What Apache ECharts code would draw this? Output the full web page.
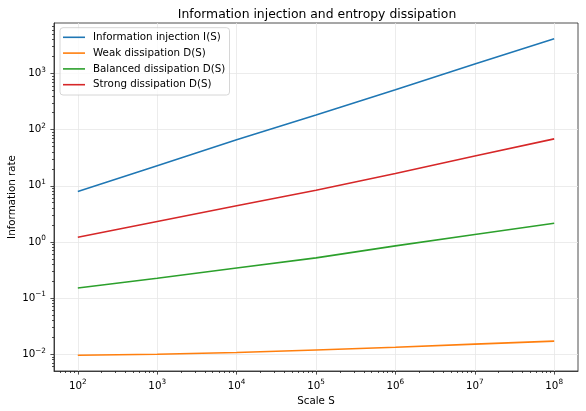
<!DOCTYPE html>
<html>
<head>
<meta charset="utf-8">
<script src="https://cdn.jsdelivr.net/npm/echarts@6/dist/echarts.min.js"></script>
<style>
html,body{margin:0;padding:0;background:#fff;}
#c{width:586px;height:411px;}
</style>
</head>
<body>
<div id="c"></div>
<script>
// ---- data ----
const scaleS = [1e2, 1e3, 1e4, 1e5, 1e6, 1e7, 1e8];
const injection = [7.9, 22.8, 66, 182, 515, 1480, 4150];
const weakDiss = [0.0096, 0.0100, 0.0107, 0.0119, 0.0133, 0.0151, 0.0171];
const balancedDiss = [0.151, 0.225, 0.344, 0.52, 0.85, 1.35, 2.16];
const strongDiss = [1.21, 2.32, 4.4, 8.3, 16.5, 34, 68.5];
const seriesNames = ['Information injection I(S)', 'Weak dissipation D(S)', 'Balanced dissipation D(S)', 'Strong dissipation D(S)'];
const xMajorTicks = [1e2, 1e3, 1e4, 1e5, 1e6, 1e7, 1e8];
const yMajorTicks = [1e-2, 1e-1, 1e0, 1e1, 1e2, 1e3];

// ---- layout helpers ----
function logRange(vals) {
  const lo = Math.log10(Math.min(...vals)), hi = Math.log10(Math.max(...vals));
  const m = 0.05 * (hi - lo);
  return [Math.pow(10, lo - m), Math.pow(10, hi + m)];
}
const xr = logRange(scaleS);
const yr = logRange([].concat(injection, weakDiss, balancedDiss, strongDiss));
function minorTicks(r) {
  const out = [];
  for (let e = -4; e <= 9; e++) for (let k = 2; k <= 9; k++) {
    const v = k * Math.pow(10, e);
    if (v >= r[0] && v <= r[1]) out.push(v);
  }
  return out;
}
function pow10Label(v) {
  const e = Math.round(Math.log10(v));
  return '{b|10}{s|' + String(e).replace('-', '\u2212') + '}';
}
const FONT = 'DejaVu Sans';
const richLbl = {
  b: {fontFamily: FONT, fontSize: 10.3, color: '#000', lineHeight: 14},
  s: {fontFamily: FONT, fontSize: 7.3, color: '#000', lineHeight: 7, verticalAlign: 'top'}
};
const tickStyle = {color: '#222', width: 0.8};
const colors = ['#1f77b4', '#ff7f0e', '#2ca02c', '#d62728'];
const dataSets = [injection, weakDiss, balancedDiss, strongDiss];

const chart = echarts.init(document.getElementById('c'), null, {renderer: 'canvas'});
chart.setOption({
  animation: false,
  backgroundColor: '#fff',
  title: {
    text: 'Information injection and entropy dissipation',
    left: 312, top: 4, textAlign: 'center',
    textStyle: {fontFamily: FONT, fontSize: 12.4, fontWeight: 'normal', color: '#000'}
  },
  legend: {
    orient: 'vertical', left: 60, top: 27.7,
    padding: [3.6, 4.3, 4.3, 3],
    itemGap: 3.8, itemWidth: 22, itemHeight: 1.6, icon: 'rect',
    backgroundColor: 'rgba(255,255,255,0.8)', borderColor: '#cccccc', borderWidth: 0.8, borderRadius: 3,
    textStyle: {fontFamily: FONT, fontSize: 10.3, color: '#000', lineHeight: 12, padding: [0, 0, 0, 3]},
    data: seriesNames
  },
  grid: {left: 54, right: 8, top: 23, bottom: 40, containLabel: false, outerBoundsMode: 'none',
    show: true, borderColor: '#222', borderWidth: 0.8, backgroundColor: 'transparent'},
  xAxis: [{
    type: 'log', min: xr[0], max: xr[1], position: 'bottom',
    name: 'Scale S', nameLocation: 'middle', nameGap: 24,
    nameTextStyle: {fontFamily: FONT, fontSize: 10.3, color: '#000'},
    axisLine: {show: true, lineStyle: tickStyle},
    axisTick: {show: true, inside: false, length: 3.6, lineStyle: tickStyle, customValues: xMajorTicks},
    axisLabel: {show: true, margin: 8, formatter: pow10Label, rich: richLbl, customValues: xMajorTicks},
    splitLine: {show: true, lineStyle: {color: '#e7e7e7', width: 0.8}},
    minorTick: {show: false}, minorSplitLine: {show: false}
  }, {
    type: 'log', min: xr[0], max: xr[1], position: 'bottom', gridIndex: 0,
    axisLine: {show: false}, axisLabel: {show: false}, splitLine: {show: false},
    axisTick: {show: true, inside: false, length: 2, lineStyle: tickStyle, customValues: minorTicks(xr)}
  }],
  yAxis: [{
    type: 'log', min: yr[0], max: yr[1], position: 'left',
    name: 'Information rate', nameLocation: 'middle', nameGap: 37, nameRotate: 90, nameMoveOverlap: false,
    nameTextStyle: {fontFamily: FONT, fontSize: 10.3, color: '#000'},
    axisLine: {show: true, lineStyle: tickStyle},
    axisTick: {show: true, inside: false, length: 3.6, lineStyle: tickStyle, customValues: yMajorTicks},
    axisLabel: {show: true, margin: 8, formatter: pow10Label, rich: richLbl, customValues: yMajorTicks},
    splitLine: {show: true, lineStyle: {color: '#e7e7e7', width: 0.8}},
    minorTick: {show: false}, minorSplitLine: {show: false}
  }, {
    type: 'log', min: yr[0], max: yr[1], position: 'left', gridIndex: 0,
    axisLine: {show: false}, axisLabel: {show: false}, splitLine: {show: false},
    axisTick: {show: true, inside: false, length: 2, lineStyle: tickStyle, customValues: minorTicks(yr)}
  }],
  series: seriesNames.map((n, i) => ({
    name: n, type: 'line', xAxisIndex: 0, yAxisIndex: 0,
    data: scaleS.map((s, j) => [s, dataSets[i][j]]),
    symbol: 'none', smooth: false,
    lineStyle: {color: colors[i], width: 1.55},
    itemStyle: {color: colors[i]},
    z: 2 + i
  }))
});
</script>
</body>
</html>
